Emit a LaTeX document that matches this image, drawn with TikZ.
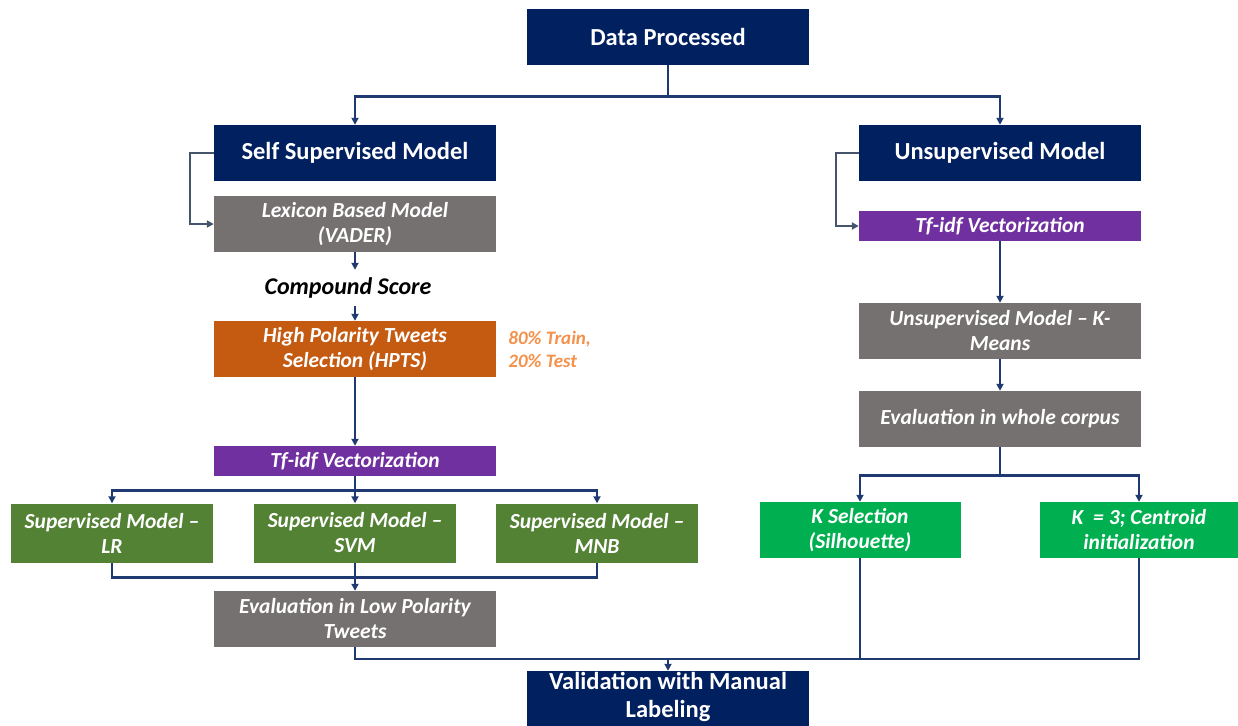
\documentclass[tikz,border=0pt]{standalone}
\usepackage{fontspec}
\setmainfont{Carlito}
\usetikzlibrary{positioning,arrows.meta,calc}
\definecolor{navy}{HTML}{002060}
\definecolor{boxgray}{HTML}{767171}
\definecolor{boxorange}{HTML}{C55A11}
\definecolor{boxpurple}{HTML}{7030A0}
\definecolor{darkgreen}{HTML}{548235}
\definecolor{lightgreen}{HTML}{00B050}
\definecolor{linkblue}{HTML}{1F3A70}
\definecolor{slate}{HTML}{44546A}
\definecolor{splittext}{HTML}{F4914A}
\tikzset{
  blk/.style={inner sep=0pt,align=center,text=white,minimum height=56pt},
  headbox/.style={blk,fill=navy,minimum width=282pt,font=\bfseries\fontsize{24.5}{29}\selectfont},
  stepbox/.style={blk,minimum width=282pt,font=\bfseries\itshape\fontsize{21.5}{25}\selectfont},
  graybox/.style={stepbox,fill=boxgray},
  vecbox/.style={stepbox,fill=boxpurple,minimum height=30pt},
  supbox/.style={stepbox,fill=darkgreen,minimum width=202pt,minimum height=59pt},
  kbox/.style={stepbox,fill=lightgreen,minimum width=201pt},
  link/.style={draw=linkblue,line width=2.6pt},
  arr/.style={link,-{Triangle[length=7pt,width=7pt]}},
  fb/.style={draw=slate,line width=2.6pt,-{Triangle[length=7pt,width=7pt]}},
}
\begin{document}
\begin{tikzpicture}[x=1pt,y=-1pt]
\useasboundingbox (0,0) rectangle (1238,725);

% top
\node[headbox] (data) at (668,37) {Data Processed};
\node[headbox] (self) at (355,153) {Self Supervised Model};
\node[headbox] (unsup) at (1000,153) {Unsupervised Model};

% self supervised branch
\node[graybox] (lex) at (355,224) {Lexicon Based Model\\(VADER)};
\node[minimum height=36pt,inner sep=0pt,font=\bfseries\itshape\fontsize{24}{28}\selectfont] (comp) at (348,288) {Compound Score};
\node[stepbox,fill=boxorange] (hpts) at (355,349) {High Polarity Tweets\\Selection (HPTS)};
\node[right=12pt of hpts,align=left,text=splittext,inner sep=0pt,font=\bfseries\itshape\fontsize{19}{23}\selectfont] (split) {80\% Train,\\20\% Test};
\node[vecbox] (tfl) at (355,461) {Tf-idf Vectorization};
\node[supbox] (lr) at (112,533) {Supervised Model –\\LR};
\node[supbox] (svm) at (355,533) {Supervised Model –\\SVM};
\node[supbox] (mnb) at (597,533) {Supervised Model –\\MNB};
\node[graybox] (evlow) at (355,619) {Evaluation in Low Polarity\\Tweets};

% unsupervised branch
\node[vecbox] (tfr) at (1000,226) {Tf-idf Vectorization};
\node[graybox] (kmeans) at (1000,331) {Unsupervised Model – K-\\Means};
\node[graybox] (evwhole) at (1000,419) {Evaluation in whole corpus};
\node[kbox] (ksel) at (860,530) {K Selection\\(Silhouette)};
\node[kbox,minimum width=198pt] (kthree) at (1139,530) {K~~= 3; Centroid\\initialization};

% bottom
\node[headbox,minimum height=64pt,inner ysep=0pt] (valid) at (668,703) {};
\node[blk,minimum height=0pt,font=\bfseries\fontsize{24.5}{28}\selectfont] (validtext) at (668,697) {Validation with Manual\\Labeling};
\coordinate (merge) at (668,659);

% connectors
\draw[arr] (data.south) -- ++(0,31) -| (self.north);
\draw[arr] (data.south) -- ++(0,31) -| (unsup.north);
\draw[fb] (self.west) -- ++(-24,0) |- (lex.west);
\draw[fb] (unsup.west) -- ++(-23,0) |- (tfr.west);

\draw[arr] (lex.south) -- (comp.north -| lex.south);
\draw[arr] (comp.south -| hpts.north) -- (hpts.north);
\draw[arr] (hpts) -- (tfl);
\draw[arr] (tfl.south) -- ++(0,14) -| (lr.north);
\draw[arr] (tfl.south) -- ++(0,14) -| (mnb.north);
\draw[arr] (tfl) -- (svm);
\draw[link] (lr.south) -- ++(0,15) -| (mnb.south);
\draw[arr] (svm) -- (evlow);

\draw[arr] (tfr) -- (kmeans);
\draw[arr] (kmeans) -- (evwhole);
\draw[arr] (evwhole.south) -- ++(0,28) -| (ksel.north);
\draw[arr] (evwhole.south) -- ++(0,28) -| (kthree.north);

\draw[link] (evlow.south) |- (merge);
\draw[link] (kthree.south) |- (merge);
\draw[link] (ksel.south) -- (ksel.south |- merge);
\draw[arr] (merge) -- (valid.north);
\end{tikzpicture}
\end{document}
